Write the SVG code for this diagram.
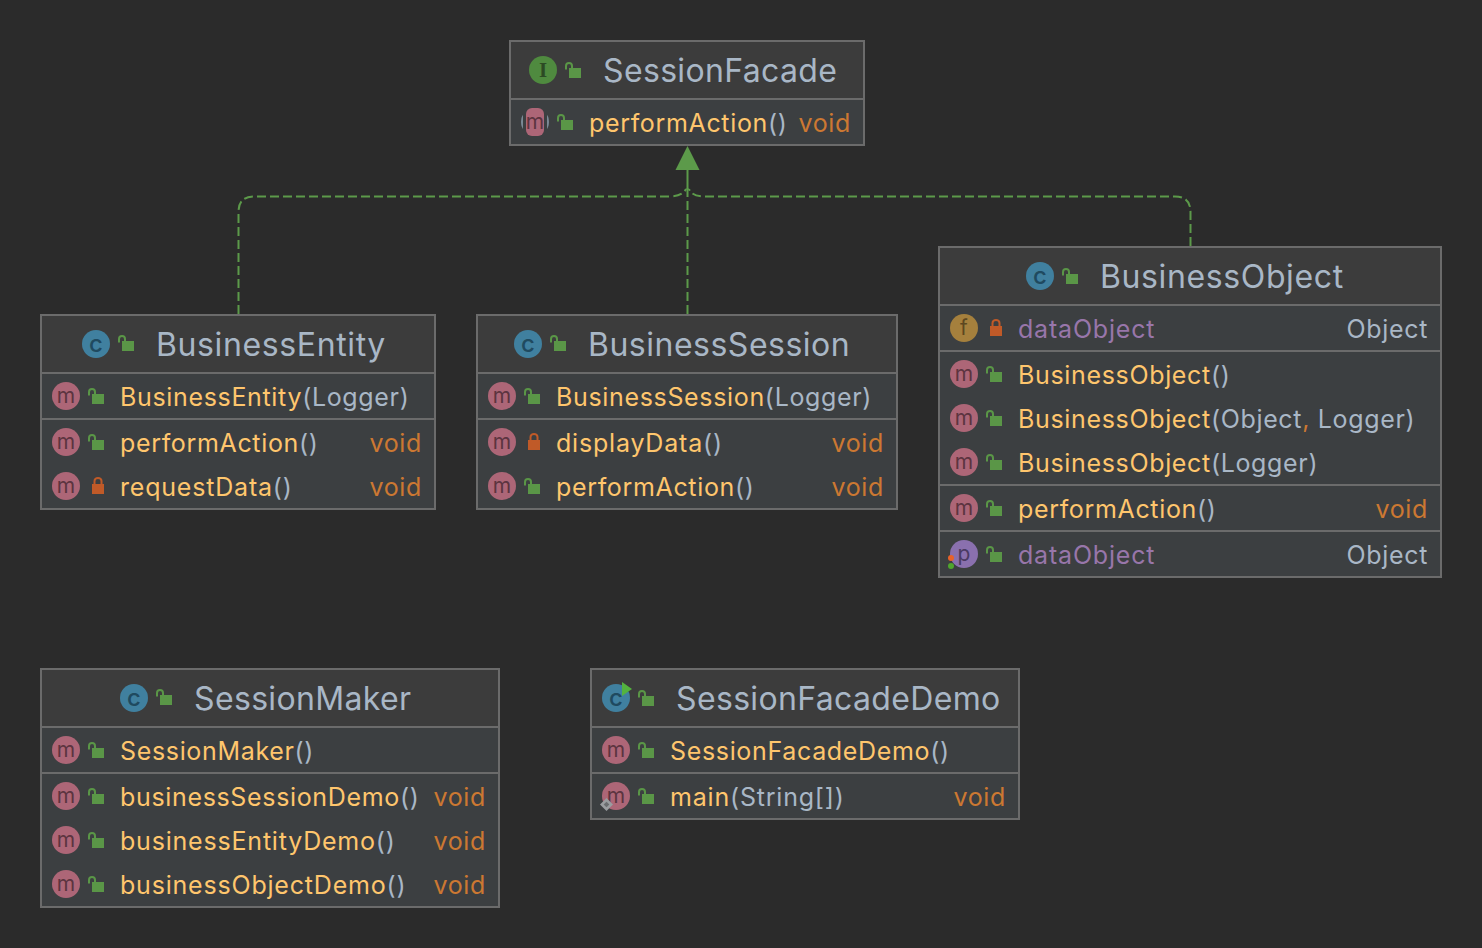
<svg xmlns="http://www.w3.org/2000/svg" width="1482" height="948" viewBox="0 0 1482 948">
<style>
text{font-family:"Inter","Liberation Sans",sans-serif}
.box{fill:#3c3f41;stroke:#6b6b6b;stroke-width:2}
.head{fill:#3c3c3c}
.div{stroke:#6b6b6b;stroke-width:2}
.t{font-size:32px;fill:#a9b7c6;letter-spacing:.35px}
.tw{letter-spacing:.62px}
.r{font-size:25px;fill:#ffc66d;letter-spacing:.66px}
.rw{letter-spacing:.8px}
.p{fill:#a9b7c6}
.v{font-size:25px;fill:#cc7832;text-anchor:end;letter-spacing:.66px}
.ty{font-size:25px;fill:#a9b7c6;text-anchor:end;letter-spacing:.66px}
.f{font-size:25px;fill:#9876aa;letter-spacing:.8px}
.i{font-size:21px;text-anchor:middle}
.im{fill:#5c3440}.ic{fill:#1f4a60;font-size:24px;font-weight:500}
.conn{fill:none;stroke:#5c9a4a;stroke-width:2;stroke-dasharray:9 4}
.stem{fill:none;stroke:#5c9a4a;stroke-width:2}
</style>
<defs>
<g id="unlock"><rect x="0" y="-3" width="12" height="10" fill="#5a9647"/><path d="M-3 -1.500V-5a3 3 0 0 1 6 0V-3" fill="none" stroke="#5a9647" stroke-width="2"/></g>
<g id="lock"><rect x="0" y="-3" width="12" height="10" fill="#c05a28"/><path d="M2.500 -3V-6a3.500 3 0 0 1 7 0V-3" fill="none" stroke="#c05a28" stroke-width="2"/></g>
<circle id="cm" r="14" fill="#ad6677"/>
<circle id="cc" r="14" fill="#40809f"/>
</defs>
<rect width="1482" height="948" fill="#2b2b2b"/>

<g id="connectors">
<path class="conn" d="M238.500 314V212Q238.500 196.500 254 196.500H670Q682 196.500 686 189"/>
<path class="conn" d="M687.500 314V188"/>
<path class="conn" d="M1190.500 246V212Q1190.500 196.500 1175 196.500H704Q692 196.500 689 189"/>
<path class="stem" d="M687.500 190V168"/>
<path d="M687.500 146L699.500 170H675.500Z" fill="#5c9a4a"/>
</g>

<g id="SessionFacade">
<rect class="box" x="510" y="41" width="354" height="104"/>
<rect class="head" x="511" y="42" width="352" height="57"/>
<line class="div" x1="511" y1="99" x2="863" y2="99"/>
<circle cx="543" cy="70" r="14" fill="#4f8a3f"/><text class="i" x="543" y="77" fill="#2c4a24" style="font-family:'Liberation Serif',serif;font-weight:700">I</text>
<use href="#unlock" x="569" y="71"/>
<text class="t" x="603" y="82">SessionFacade</text>
<circle cx="535" cy="122" r="14" fill="#7b8a96"/><rect x="523" y="108" width="24" height="28" fill="#3c3f41"/><rect x="526" y="108" width="18" height="28" rx="6" fill="#ad6677"/><text class="i im" x="535" y="129">m</text>
<use href="#unlock" x="561" y="123"/>
<text class="r" x="589" y="132">performAction<tspan class="p">()</tspan></text>
<text class="v" x="851" y="132">void</text>
</g>

<g id="BusinessEntity">
<rect class="box" x="41" y="315" width="394" height="194"/>
<rect class="head" x="42" y="316" width="392" height="57"/>
<line class="div" x1="42" y1="373" x2="434" y2="373"/>
<line class="div" x1="42" y1="419" x2="434" y2="419"/>
<use href="#cc" x="96" y="344"/><text class="i ic" x="96" y="352">c</text>
<use href="#unlock" x="122" y="344"/>
<text class="t tw" x="156" y="356">BusinessEntity</text>
<use href="#cm" x="66" y="396"/><text class="i im" x="66" y="403">m</text>
<use href="#unlock" x="92" y="397"/>
<text class="r" x="120" y="406">BusinessEntity<tspan class="p">(Logger)</tspan></text>
<use href="#cm" x="66" y="442"/><text class="i im" x="66" y="449">m</text>
<use href="#unlock" x="92" y="443"/>
<text class="r" x="120" y="452">performAction<tspan class="p">()</tspan></text>
<text class="v" x="422" y="452">void</text>
<use href="#cm" x="66" y="486"/><text class="i im" x="66" y="493">m</text>
<use href="#lock" x="92" y="487"/>
<text class="r rw" x="120" y="496">requestData<tspan class="p">()</tspan></text>
<text class="v" x="422" y="496">void</text>
</g>

<g id="BusinessSession">
<rect class="box" x="477" y="315" width="420" height="194"/>
<rect class="head" x="478" y="316" width="418" height="57"/>
<line class="div" x1="478" y1="373" x2="896" y2="373"/>
<line class="div" x1="478" y1="419" x2="896" y2="419"/>
<use href="#cc" x="528" y="344"/><text class="i ic" x="528" y="352">c</text>
<use href="#unlock" x="554" y="344"/>
<text class="t" style="letter-spacing:.5px" x="588" y="356">BusinessSession</text>
<use href="#cm" x="502" y="396"/><text class="i im" x="502" y="403">m</text>
<use href="#unlock" x="528" y="397"/>
<text class="r" x="556" y="406">BusinessSession<tspan class="p">(Logger)</tspan></text>
<use href="#cm" x="502" y="442"/><text class="i im" x="502" y="449">m</text>
<use href="#lock" x="528" y="443"/>
<text class="r rw" x="556" y="452">displayData<tspan class="p">()</tspan></text>
<text class="v" x="884" y="452">void</text>
<use href="#cm" x="502" y="486"/><text class="i im" x="502" y="493">m</text>
<use href="#unlock" x="528" y="487"/>
<text class="r" x="556" y="496">performAction<tspan class="p">()</tspan></text>
<text class="v" x="884" y="496">void</text>
</g>

<g id="BusinessObject">
<rect class="box" x="939" y="247" width="502" height="330"/>
<rect class="head" x="940" y="248" width="500" height="57"/>
<line class="div" x1="940" y1="305" x2="1440" y2="305"/>
<line class="div" x1="940" y1="351" x2="1440" y2="351"/>
<line class="div" x1="940" y1="485" x2="1440" y2="485"/>
<line class="div" x1="940" y1="531" x2="1440" y2="531"/>
<use href="#cc" x="1040" y="276"/><text class="i ic" x="1040" y="284">c</text>
<use href="#unlock" x="1066" y="277"/>
<text class="t tw" x="1100" y="288">BusinessObject</text>
<circle cx="964" cy="328" r="14" fill="#a5803d"/><text class="i" x="964" y="335" fill="#5c4720">f</text>
<use href="#lock" x="990" y="329"/>
<text class="f" x="1018" y="338">dataObject</text>
<text class="ty" x="1428" y="338">Object</text>
<use href="#cm" x="964" y="374"/><text class="i im" x="964" y="381">m</text>
<use href="#unlock" x="990" y="375"/>
<text class="r" x="1018" y="384">BusinessObject<tspan class="p">()</tspan></text>
<use href="#cm" x="964" y="418"/><text class="i im" x="964" y="425">m</text>
<use href="#unlock" x="990" y="419"/>
<text class="r" x="1018" y="428">BusinessObject<tspan class="p">(Object</tspan><tspan fill="#cc7832">,</tspan><tspan class="p"> Logger)</tspan></text>
<use href="#cm" x="964" y="462"/><text class="i im" x="964" y="469">m</text>
<use href="#unlock" x="990" y="463"/>
<text class="r" x="1018" y="472">BusinessObject<tspan class="p">(Logger)</tspan></text>
<use href="#cm" x="964" y="508"/><text class="i im" x="964" y="515">m</text>
<use href="#unlock" x="990" y="509"/>
<text class="r" x="1018" y="518">performAction<tspan class="p">()</tspan></text>
<text class="v" x="1428" y="518">void</text>
<circle cx="964" cy="554" r="14" fill="#8a70ae"/><text class="i" x="964" y="561" fill="#4a3a63">p</text>
<circle cx="951" cy="558" r="3" fill="#e8622a"/><circle cx="951" cy="566" r="3" fill="#4fa52d"/>
<use href="#unlock" x="990" y="555"/>
<text class="f" x="1018" y="564">dataObject</text>
<text class="ty" x="1428" y="564">Object</text>
</g>

<g id="SessionMaker">
<rect class="box" x="41" y="669" width="458" height="238"/>
<rect class="head" x="42" y="670" width="456" height="57"/>
<line class="div" x1="42" y1="727" x2="498" y2="727"/>
<line class="div" x1="42" y1="773" x2="498" y2="773"/>
<use href="#cc" x="134" y="698"/><text class="i ic" x="134" y="706">c</text>
<use href="#unlock" x="160" y="698"/>
<text class="t" x="194" y="710">SessionMaker</text>
<use href="#cm" x="66" y="750"/><text class="i im" x="66" y="757">m</text>
<use href="#unlock" x="92" y="751"/>
<text class="r" x="120" y="760">SessionMaker<tspan class="p">()</tspan></text>
<use href="#cm" x="66" y="796"/><text class="i im" x="66" y="803">m</text>
<use href="#unlock" x="92" y="797"/>
<text class="r" x="120" y="806">businessSessionDemo<tspan class="p">()</tspan></text>
<text class="v" x="486" y="806">void</text>
<use href="#cm" x="66" y="840"/><text class="i im" x="66" y="847">m</text>
<use href="#unlock" x="92" y="841"/>
<text class="r rw" x="120" y="850">businessEntityDemo<tspan class="p">()</tspan></text>
<text class="v" x="486" y="850">void</text>
<use href="#cm" x="66" y="884"/><text class="i im" x="66" y="891">m</text>
<use href="#unlock" x="92" y="885"/>
<text class="r rw" x="120" y="894">businessObjectDemo<tspan class="p">()</tspan></text>
<text class="v" x="486" y="894">void</text>
</g>

<g id="SessionFacadeDemo">
<rect class="box" x="591" y="669" width="428" height="150"/>
<rect class="head" x="592" y="670" width="426" height="57"/>
<line class="div" x1="592" y1="727" x2="1018" y2="727"/>
<line class="div" x1="592" y1="773" x2="1018" y2="773"/>
<use href="#cc" x="616" y="698"/><text class="i ic" x="616" y="706">c</text>
<path d="M622 682L632 689L622 696Z" fill="#54b33e"/>
<use href="#unlock" x="642" y="699"/>
<text class="t" x="676" y="710">SessionFacadeDemo</text>
<use href="#cm" x="616" y="750"/><text class="i im" x="616" y="757">m</text>
<use href="#unlock" x="642" y="751"/>
<text class="r" x="670" y="760">SessionFacadeDemo<tspan class="p">()</tspan></text>
<use href="#cm" x="616" y="796"/><text class="i im" x="616" y="803">m</text>
<path d="M606.500 798L613 804.500L606.500 811L600 804.500Z" fill="#9a9da0"/><rect x="604.500" y="802.500" width="4" height="4" fill="#6a6d70" transform="rotate(45 606.500 804.500)"/>
<use href="#unlock" x="642" y="797"/>
<text class="r rw" x="670" y="806">main<tspan class="p">(String[])</tspan></text>
<text class="v" x="1006" y="806">void</text>
</g>
</svg>
